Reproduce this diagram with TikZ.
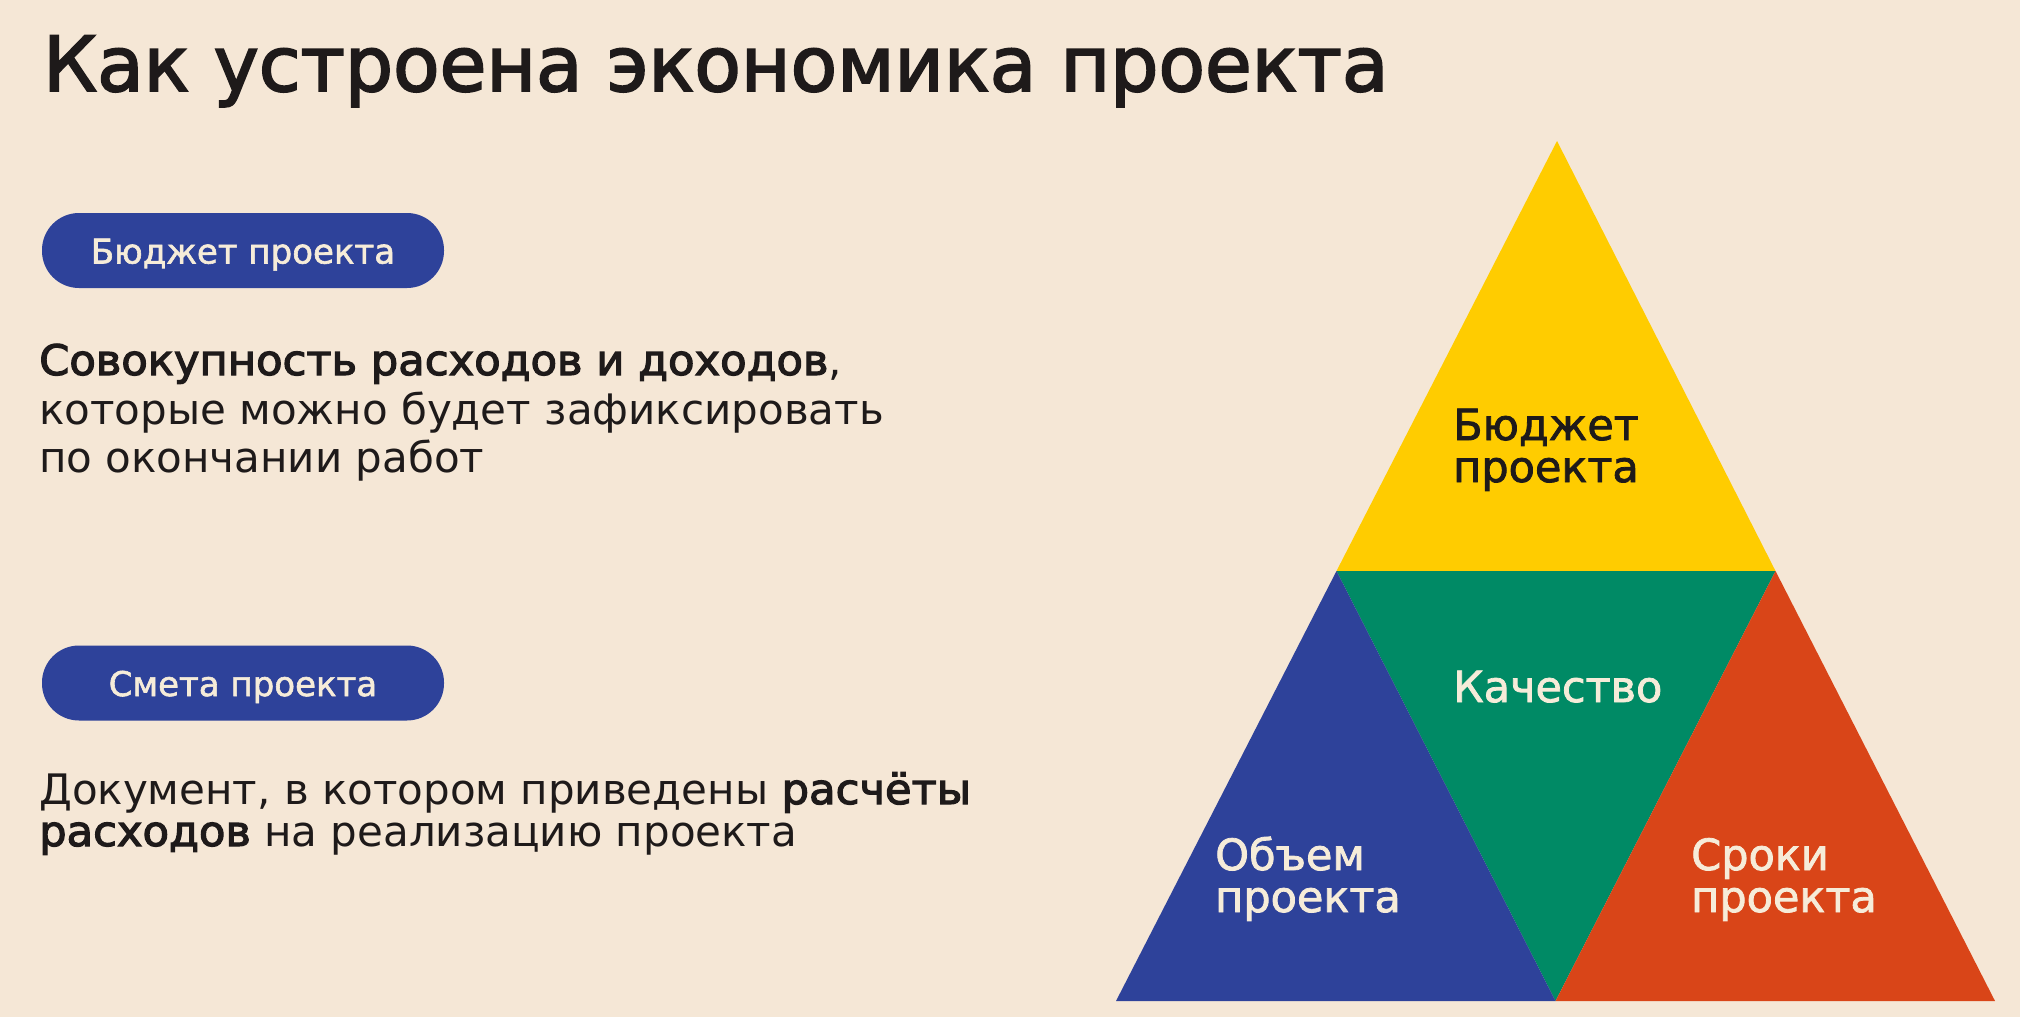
\documentclass[tikz,border=0pt]{standalone}
\usepackage{fontspec}
\setmainfont{DejaVu Sans}
\newfontfamily\titlef{DejaVu Sans}[FakeBold=2.5]
\newfontfamily\medf{DejaVu Sans}[FakeBold=1.8]
\newfontfamily\strongf{DejaVu Sans}[FakeBold=2.8,FakeStretch=1.03]
\definecolor{bg}{HTML}{F5E7D6}
\definecolor{ink}{HTML}{1E1A1A}
\definecolor{cream}{HTML}{F6ECD9}
\definecolor{pblue}{HTML}{2E429A}
\definecolor{pyellow}{HTML}{FFCC00}
\definecolor{pgreen}{HTML}{008A65}
\definecolor{pred}{HTML}{D94518}
\begin{document}
\begin{tikzpicture}[x=1pt,y=-1pt,
  lbl/.style={inner sep=0pt, anchor=base west, text=ink},
  body/.style={lbl, font=\fontsize{42}{48}\selectfont},
  tri/.style={lbl, font=\medf\fontsize{43}{48}\selectfont},
  pill/.style={fill=pblue, rounded corners=37pt, minimum width=402pt, minimum height=75pt,
    inner sep=0pt, text height=26pt, text depth=0pt, text=cream, font=\medf\fontsize{34}{40}\selectfont}]
\useasboundingbox (0,0) rectangle (2020,1017);
\fill[bg] (0,0) rectangle (2020,1017);
% title
\node[lbl, font=\titlef\fontsize{76}{90}\selectfont] (title) at (43,91) {Как устроена экономика проекта};
% pills
\node[pill] (pill1) at (243,250.5) {Бюджет проекта};
\node[pill] (pill2) at (243,683) {Смета проекта};
% paragraph 1
\node[body] (p1a) at (39,375) {{\strongf Совокупность расходов и доходов},};
\node[body] (p1b) at (39,424) {которые можно будет зафиксировать};
\node[body] (p1c) at (39,472) {по окончании работ};
% paragraph 2
\node[body] (p2a) at (39,804) {Документ, в котором приведены {\strongf расчёты}};
\node[body] (p2b) at (39,846) {{\strongf расходов} на реализацию проекта};
% triangle
\coordinate (A) at (1557,141);
\coordinate (BL) at (1116,1001);
\coordinate (BR) at (1995,1001);
\coordinate (ML) at (1336.5,571);
\coordinate (MR) at (1775.5,571);
\coordinate (MB) at (1555.5,1001);
\fill[pyellow] (A) -- (ML) -- (MR) -- cycle;
\fill[pgreen] (ML) -- (MR) -- (MB) -- cycle;
\fill[pblue] (ML) -- (BL) -- (MB) -- cycle;
\fill[pred] (MR) -- (MB) -- (BR) -- cycle;
\node[tri] (ya) at (1453,440) {Бюджет};
\node[tri] (yb) at (1453,482) {проекта};
\node[tri, text=cream] (g) at (1453,702) {Качество};
\node[tri, text=cream] (ba) at (1215,870) {Объем};
\node[tri, text=cream] (bb) at (1215,912) {проекта};
\node[tri, text=cream] (ra) at (1691,870) {Сроки};
\node[tri, text=cream] (rb) at (1691,912) {проекта};
\end{tikzpicture}
\end{document}
